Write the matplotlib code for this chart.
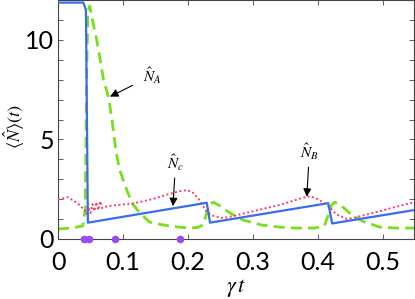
import matplotlib
matplotlib.use("Agg")
import matplotlib.pyplot as plt
from matplotlib.ticker import MultipleLocator

plt.rcParams['mathtext.fontset'] = 'stix'
plt.rcParams['font.family'] = ['Lato', 'DejaVu Sans']

# blue solid curve
blue_t = [0, 0.039, 0.043, 0.046, 0.229, 0.234, 0.416, 0.422, 0.548]
blue_n = [11.87, 11.87, 11.5, 0.82, 1.82, 0.82, 1.80, 0.78, 1.45]

# green dashed curve (N_A)
green_t = [0, 0.02, 0.038, 0.042, 0.044, 0.046, 0.049, 0.053, 0.0595, 0.065, 0.070,
           0.078, 0.083, 0.087, 0.089, 0.095, 0.106, 0.114, 0.126, 0.141, 0.155,
           0.167, 0.185, 0.203, 0.215, 0.223, 0.228, 0.233, 0.239, 0.25, 0.265,
           0.285, 0.314, 0.34, 0.365, 0.395, 0.41, 0.416, 0.421, 0.426, 0.437,
           0.449, 0.468, 0.495, 0.52, 0.548]
green_n = [0.5, 0.55, 0.65, 1.5, 8.0, 11.4, 11.7, 11.0, 10.0, 9.0, 8.0,
           7.1, 6.0, 5.0, 4.45, 3.45, 2.45, 1.8, 1.3, 0.85, 0.75,
           0.68, 0.6, 0.55, 0.58, 0.7, 1.2, 1.7, 1.85, 1.65, 1.3,
           0.95, 0.7, 0.6, 0.55, 0.55, 0.65, 1.2, 1.7, 1.85, 1.65,
           1.3, 0.9, 0.6, 0.55, 0.55]

# red dotted curve
red_t = [0, 0.015, 0.03, 0.041, 0.044, 0.047, 0.050, 0.053, 0.056, 0.059, 0.062,
         0.065, 0.068, 0.072, 0.077, 0.118, 0.145, 0.175, 0.19, 0.198, 0.206,
         0.218, 0.229, 0.240, 0.254, 0.270, 0.288, 0.34, 0.375, 0.388, 0.40,
         0.415, 0.428, 0.445, 0.46, 0.548]
red_n = [1.98, 2.1, 1.8, 1.45, 1.25, 1.6, 1.3, 1.75, 1.4, 1.85, 1.45,
         1.9, 1.55, 1.6, 1.65, 1.8, 2.0, 2.3, 2.42, 2.45, 2.38,
         1.95, 1.35, 1.15, 1.05, 1.15, 1.3, 1.7, 2.05, 2.15, 2.0,
         1.7, 1.25, 1.0, 1.1, 1.85]

# purple markers on the time axis
dot_t = [0.040, 0.047, 0.088, 0.188]

W, H = 415, 299
fig = plt.figure(figsize=(W / 100, H / 100), dpi=100)
ax = fig.add_axes([58 / W, 60 / H, 356 / W, 239 / H])

ax.plot(green_t, green_n, color='#77e01e', lw=2.0, dashes=(4, 2.2), zorder=2)
ax.plot(red_t, red_n, color='#ff3a66', lw=1.4, ls=(0, (1, 1.3)), zorder=3)
ax.plot(blue_t, blue_n, color='#3a6cf2', lw=1.6, zorder=4)
ax.plot(dot_t, [0] * len(dot_t), 'o', color='#9a4cf0', ms=4.5, clip_on=False, zorder=5)

ax.set_xlim(0, 0.548)
ax.set_ylim(0, 12)
ax.set_xticks([0, 0.1, 0.2, 0.3, 0.4, 0.5])
ax.set_xticklabels(['0', '0.1', '0.2', '0.3', '0.4', '0.5'])
ax.yaxis.set_major_locator(MultipleLocator(5))
ax.yaxis.set_minor_locator(MultipleLocator(1))
ax.tick_params(which='both', direction='in', top=True, right=True,
               length=3.5, width=0.6, colors='#444444', labelcolor='black',
               labelsize=18)
ax.tick_params(axis='x', pad=9)
ax.tick_params(axis='y', pad=3)
for s in ax.spines.values():
    s.set_linewidth(0.8)
    s.set_color('#444444')

ax.set_xlabel(r'$\gamma\,t$', fontsize=16, labelpad=2)
fig.text(14 / W, 1 - 127 / H, r'$\left\langle \hat{N} \right\rangle (t)$',
         rotation=90, fontsize=13, ha='center', va='center')

ax.annotate(r'$\hat{N}_A$', xy=(0.080, 7.15), xytext=(0.145, 8.2),
            fontsize=11, ha='center', va='center',
            arrowprops=dict(arrowstyle='-|>', color='black', lw=0.8,
                            mutation_scale=12, shrinkA=6, shrinkB=0))
ax.annotate(r'$\hat{N}_c$', xy=(0.177, 1.65), xytext=(0.181, 3.85),
            fontsize=11, ha='center', va='center',
            arrowprops=dict(arrowstyle='-|>', color='black', lw=0.8,
                            mutation_scale=12, shrinkA=2, shrinkB=0))
ax.annotate(r'$\hat{N}_B$', xy=(0.383, 2.12), xytext=(0.387, 4.4),
            fontsize=11, ha='center', va='center',
            arrowprops=dict(arrowstyle='-|>', color='black', lw=0.8,
                            mutation_scale=12, shrinkA=2, shrinkB=0))

fig.savefig('out.png', dpi=100)
